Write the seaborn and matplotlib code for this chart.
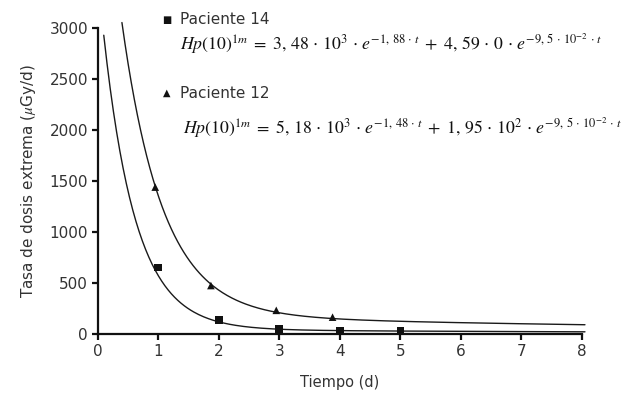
import numpy as np
import pandas as pd
import matplotlib
matplotlib.use("Agg")
import matplotlib.pyplot as plt
import seaborn as sns

sns.set_theme(style="ticks")
plt.rcParams['font.family'] = ['DejaVu Sans']
plt.rcParams['mathtext.fontset'] = 'stix'

text_color = '#333333'

# measured points
t14 = [1.0, 2.0, 3.0, 4.0, 5.0]
dose14 = [650, 140, 50, 35, 32]
t12 = [0.95, 1.87, 2.95, 3.88]
dose12 = [1440, 475, 232, 165]

# fitted bi-exponential coefficients (from the chart labels)
fit14 = [3480, 1.88, 45.9, 0.095]
fit12 = [5180, 1.48, 195, 0.095]
t_start = {'14': 0.10, '12': 0.40}
t_end = 8.05


def biexp(t, c):
    return c[0] * np.exp(-c[1] * t) + c[2] * np.exp(-c[3] * t)


t14_fit = np.linspace(t_start['14'], t_end, 300)
t12_fit = np.linspace(t_start['12'], t_end, 300)
curves = pd.concat([
    pd.DataFrame({'t': t14_fit, 'dose': biexp(t14_fit, fit14), 'paciente': '14'}),
    pd.DataFrame({'t': t12_fit, 'dose': biexp(t12_fit, fit12), 'paciente': '12'}),
])

fig = plt.figure(figsize=(6.24, 3.97), dpi=100)
ax = fig.add_axes([0.1566, 0.1587, 0.776, 0.7708])

sns.lineplot(data=curves, x='t', y='dose', hue='paciente', palette=['#1a1a1a', '#1a1a1a'],
             linewidth=1.0, legend=False, ax=ax, sort=False, estimator=None)
for line in ax.lines:
    line.set_clip_on(False)

sns.scatterplot(x=t14, y=dose14, marker='s', s=30, color='#111111', edgecolor='none', ax=ax, zorder=3)
sns.scatterplot(x=t12, y=dose12, marker='^', s=30, color='#111111', edgecolor='none', ax=ax, zorder=3)

ax.set_xlim(0, 8)
ax.set_ylim(0, 3000)
ax.set_xticks(range(0, 9))
ax.set_yticks(range(0, 3001, 500))
sns.despine(ax=ax)
for side in ['left', 'bottom']:
    ax.spines[side].set_linewidth(1.6)
    ax.spines[side].set_color('#111111')
ax.tick_params(direction='out', length=4, width=1.6, color='#111111',
               labelsize=11, labelcolor=text_color, pad=3)

ax.set_xlabel('Tiempo (d)', fontsize=10.5, color=text_color, labelpad=12)
ax.set_ylabel(r'Tasa de dosis extrema ($\mu$Gy/d)', fontsize=11, color=text_color, labelpad=8)

eq14 = (r'$Hp(10)^{1m}\;=\;3,\,48\,\cdot\,10^{3}\,\cdot\,e^{-1,\,88\,\cdot\,t}\;+\;'
        r'4,\,59\,\cdot\,0\,\cdot\,e^{-9,\,5\,\cdot\,10^{-2}\,\cdot\,t}$')
eq12 = (r'$Hp(10)^{1m}\;=\;5,\,18\,\cdot\,10^{3}\,\cdot\,e^{-1,\,48\,\cdot\,t}\;+\;'
        r'1,\,95\,\cdot\,10^{2}\,\cdot\,e^{-9,\,5\,\cdot\,10^{-2}\,\cdot\,t}$')

# legend-like annotations
fig.text(167 / 624, 1 - 20 / 397, '\u25a0', fontsize=7, color='#111111', ha='center', va='center')
fig.text(180 / 624, 1 - 20 / 397, 'Paciente 14', fontsize=11, color=text_color, va='center')
fig.text(180 / 624, 1 - 43 / 397, eq14, fontsize=12.8, color='#111111', va='center')
fig.text(167 / 624, 1 - 93 / 397, '\u25b2', fontsize=7, color='#111111', ha='center', va='center')
fig.text(180 / 624, 1 - 93 / 397, 'Paciente 12', fontsize=11, color=text_color, va='center')
fig.text(183 / 624, 1 - 128 / 397, eq12, fontsize=12.8, color='#111111', va='center')

fig.savefig('out.png', dpi=100)
